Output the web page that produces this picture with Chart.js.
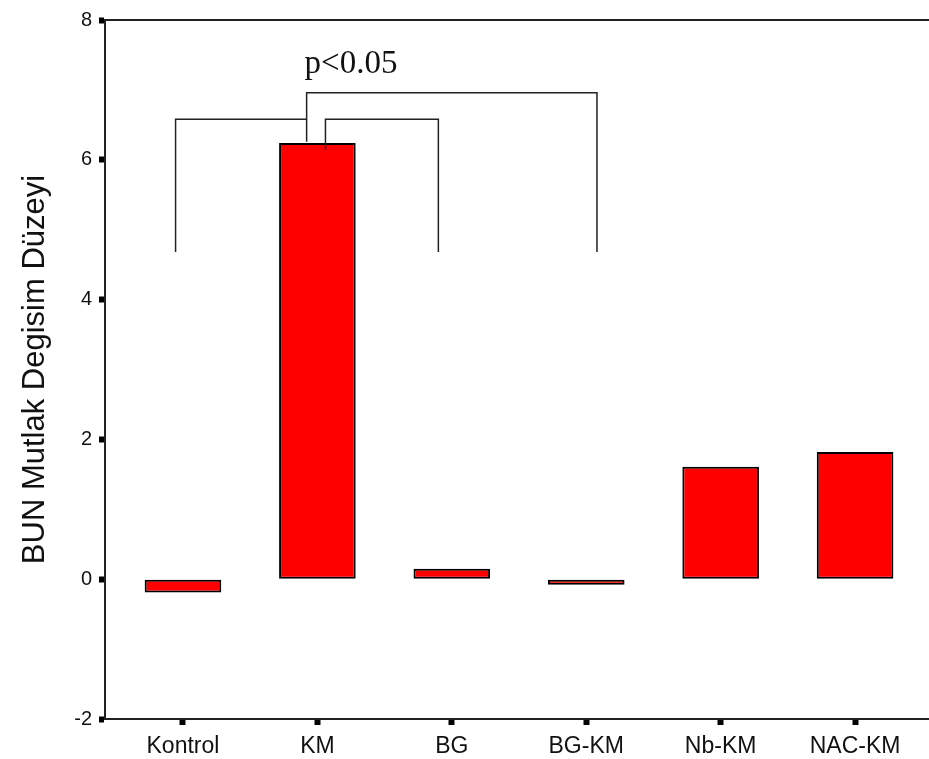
<!DOCTYPE html>
<html>
<head>
<meta charset="utf-8">
<title>BUN Mutlak Degisim Düzeyi</title>
<script src="https://cdn.jsdelivr.net/npm/chart.js@4.4.1/dist/chart.umd.min.js"></script>
<style>
  html, body { margin: 0; padding: 0; background: #fff; }
  #wrap { width: 929px; height: 759px; }
</style>
</head>
<body>
<div id="wrap"><canvas id="bunChart"></canvas></div>
<script>
// Groups and mean change in BUN
const categories = ['Kontrol', 'KM', 'BG', 'BG-KM', 'Nb-KM', 'NAC-KM'];
const bunValues = [-0.19, 6.24, 0.15, -0.08, 1.61, 1.82];
const yTicks = [-2, 0, 2, 4, 6, 8];

// Significance brackets, in (group index, value) units
const bracketPaths = [
    [[-0.055, 4.68], [-0.055, 6.58], [0.92, 6.58]],
    [[0.92, 6.26], [0.92, 6.96], [3.08, 6.96], [3.08, 4.68]],
    [[1.06, 6.14], [1.06, 6.58], [1.90, 6.58], [1.90, 4.68]]
];
const pLabel = { text: 'p<0.05', x: 1.25, y: 7.24 };

// Draws brackets, p label and the top frame line
const bracketPlugin = {
    id: 'brackets',
    afterDatasetsDraw: function(chart) {
        const ctx = chart.ctx;
        const xs = chart.scales.x;
        const ys = chart.scales.y;
        const area = chart.chartArea;
        ctx.save();
        ctx.strokeStyle = '#222';
        ctx.lineWidth = 1.5;
        bracketPaths.forEach(path => {
            ctx.beginPath();
            path.forEach((p, i) => {
                const px = xs.getPixelForValue(p[0]);
                const py = ys.getPixelForValue(p[1]);
                if (i === 0) ctx.moveTo(px, py); else ctx.lineTo(px, py);
            });
            ctx.stroke();
        });
        ctx.fillStyle = '#111';
        ctx.font = '33px "Liberation Serif", "Times New Roman", serif';
        ctx.textAlign = 'center';
        ctx.textBaseline = 'alphabetic';
        ctx.fillText(pLabel.text, xs.getPixelForValue(pLabel.x), ys.getPixelForValue(pLabel.y));

        // top frame line
        ctx.strokeStyle = '#222';
        ctx.lineWidth = 2;
        ctx.beginPath();
        ctx.moveTo(area.left, area.top);
        ctx.lineTo(area.right, area.top);
        ctx.stroke();
        ctx.restore();
    }
};

const ctx = document.getElementById('bunChart');
new Chart(ctx, {
    type: 'bar',
    data: {
        datasets: [{
            data: bunValues.map((v, i) => ({ x: i, y: v })),
            backgroundColor: '#ff0000',
            borderColor: '#000',
            borderWidth: 2,
            borderSkipped: false,
            barPercentage: 0.57,
            categoryPercentage: 1
        }]
    },
    options: {
        responsive: true,
        maintainAspectRatio: false,
        animation: false,
        layout: { padding: { top: 20, right: 0, left: 0, bottom: 0 } },
        plugins: {
            legend: { display: false },
            tooltip: { enabled: false }
        },
        scales: {
            x: {
                type: 'linear',
                offset: false,
                min: -0.58,
                max: 5.55,
                afterBuildTicks: function(scale) {
                    scale.ticks = categories.map((c, i) => ({ value: i }));
                },
                afterFit: function(scale) { scale.height = 40; },
                ticks: {
                    autoSkip: false,
                    maxRotation: 0,
                    padding: 8,
                    color: '#111',
                    font: { family: '"Liberation Sans", Arial, sans-serif', size: 23 },
                    callback: function(value) { return categories[value]; }
                },
                grid: {
                    offset: false,
                    drawOnChartArea: false,
                    tickLength: 6,
                    tickWidth: 6,
                    tickColor: '#000'
                },
                border: { display: true, color: '#222', width: 2 }
            },
            y: {
                min: -2,
                max: 8,
                afterBuildTicks: function(scale) {
                    scale.ticks = yTicks.map(v => ({ value: v }));
                },
                afterFit: function(scale) { scale.width = 105; },
                ticks: {
                    padding: 7,
                    color: '#111',
                    font: { family: '"Liberation Sans", Arial, sans-serif', size: 20 }
                },
                grid: {
                    drawOnChartArea: false,
                    tickLength: 6,
                    tickWidth: 6,
                    tickColor: '#000'
                },
                border: { display: true, color: '#222', width: 2 },
                title: {
                    display: true,
                    text: 'BUN Mutlak Degisim Düzeyi',
                    color: '#111',
                    padding: { top: 17, bottom: 0 },
                    font: { family: '"Liberation Sans", Arial, sans-serif', size: 31 }
                }
            }
        }
    },
    plugins: [bracketPlugin]
});
</script>
</body>
</html>
